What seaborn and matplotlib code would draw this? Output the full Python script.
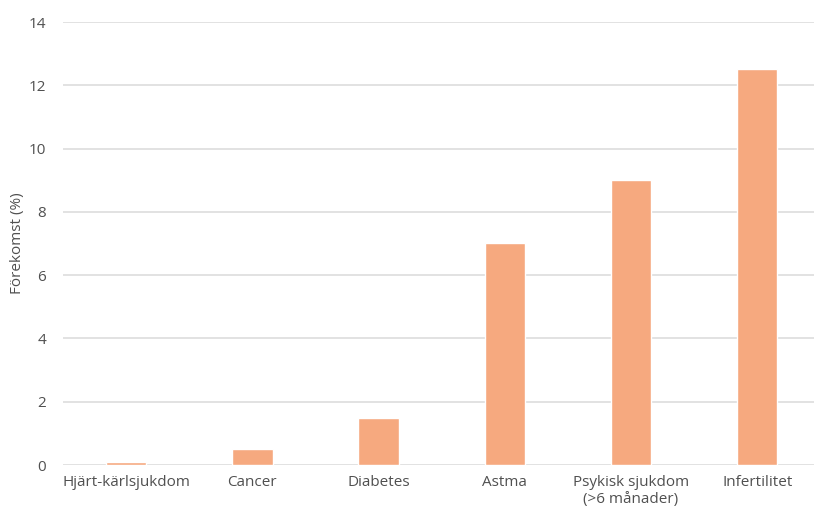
import matplotlib.pyplot as plt
import seaborn as sns
import pandas as pd

categories = ["Hjärt-kärlsjukdom", "Cancer", "Diabetes", "Astma",
              "Psykisk sjukdom\n(>6 månader)", "Infertilitet"]
values = [0.1, 0.5, 1.5, 7.0, 9.0, 12.5]
yticks = [0, 2, 4, 6, 8, 10, 12, 14]

df = pd.DataFrame({"kategori": categories, "forekomst": values})

sns.set_style("white")
plt.rcParams['font.family'] = ['Open Sans', 'DejaVu Sans']
plt.rcParams['font.weight'] = 'medium'

fig = plt.figure(figsize=(8.14, 5.11), dpi=100)
ax = fig.add_axes([63 / 814, 1 - 465 / 511, 1 - 63 / 814, (465 - 22) / 511])

sns.barplot(data=df, x="kategori", y="forekomst", color="#F6A97F",
            saturation=1, width=0.32, ax=ax, zorder=3)

ax.set_ylim(0, 14)
ax.set_xlim(-0.5, 5.45)
ax.set_yticks(yticks)
ax.grid(axis="y", color="#dddddd", linewidth=1.2, zorder=0)
ax.set_axisbelow(True)
for s in ax.spines.values():
    s.set_visible(False)
ax.tick_params(axis="both", length=0, labelsize=11, labelcolor="#505050")
ax.tick_params(axis="y", pad=12)
ax.tick_params(axis="x", pad=7)
ax.set_xlabel("")
ax.set_ylabel("Förekomst (%)", fontsize=11, color="#505050")
ax.yaxis.set_label_coords(-0.05, 0.5)

fig.savefig("out.png", dpi=100)
